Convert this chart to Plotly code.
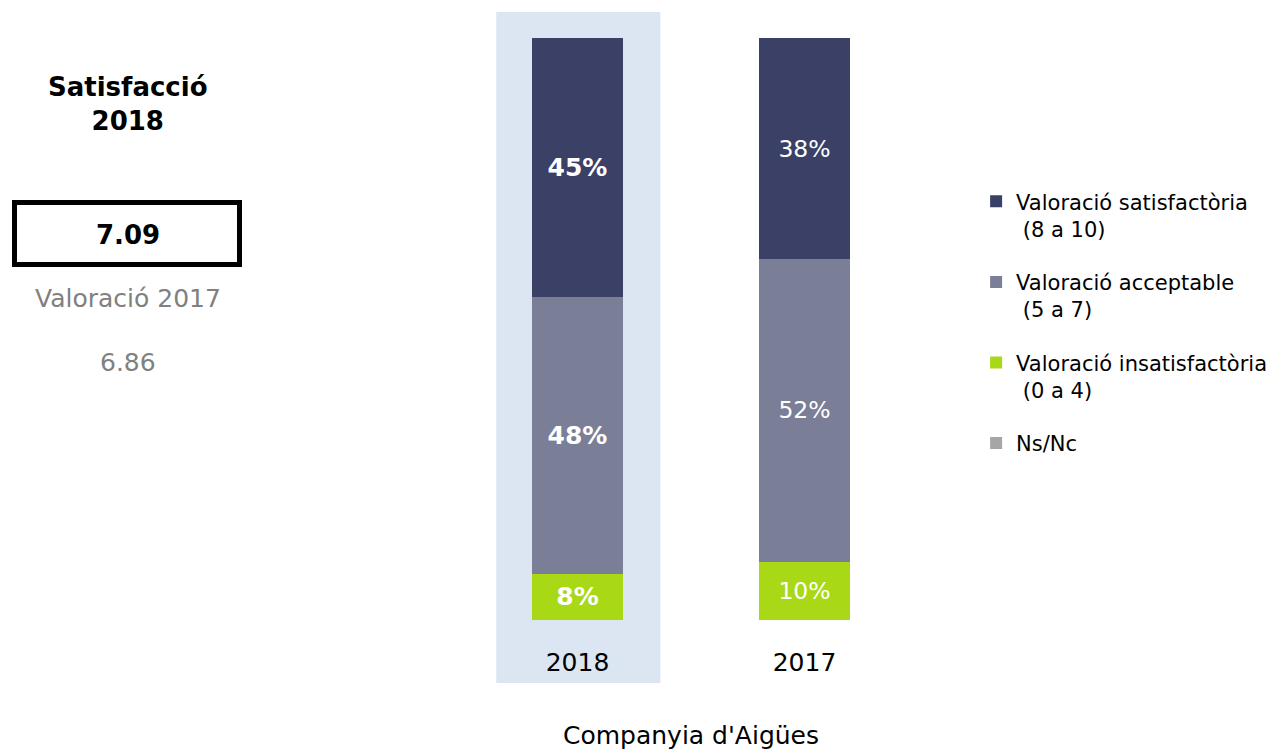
import plotly.graph_objects as go

categories = ["2018", "2017"]
series_names = [
    "Valoració insatisfactòria<br> (0 a 4)",
    "Valoració acceptable<br> (5 a 7)",
    "Valoració satisfactòria<br> (8 a 10)",
    "Ns/Nc",
]
insatisfactoria = [8, 10]
acceptable = [48, 52]
satisfactoria = [45, 38]
nsnc = [0, 0]
colors = ["#a8d816", "#7a7e96", "#3a4066", "#a6a6a6"]
legend_ranks = [3, 2, 1, 4]

score_2018 = "7.09"
score_2017 = "6.86"

FONT = "DejaVu Sans"

# plot area in pixels (used only for placing side-panel annotations)
L, T, W, H = 464, 38, 454, 582


def px(x):
    return (x - L) / W


def py(y):
    return (T + H - y) / H


fig = go.Figure()
series = [insatisfactoria, acceptable, satisfactoria, nsnc]
for i, (name, vals, col) in enumerate(zip(series_names, series, colors)):
    texts = []
    sizes = []
    for j, v in enumerate(vals):
        if v == 0:
            texts.append("")
        elif j == 0:
            texts.append(f"<b>{v}%</b>")
        else:
            texts.append(f"{v}%")
        sizes.append(25 if j == 0 else 23.5)
    fig.add_trace(go.Bar(
        x=categories, y=vals, name=name, marker=dict(color=col, line=dict(width=0)),
        text=texts, textposition="inside", insidetextanchor="middle",
        textfont=dict(color="white", size=sizes, family=FONT),
        legendgroup=str(i), legendrank=legend_ranks[i],
        hoverinfo="skip", cliponaxis=False,
    ))

fig.update_layout(
    barmode="stack", barnorm="percent", bargap=0.595,
    width=1274, height=750,
    margin=dict(l=L, r=1274 - L - W, t=T, b=750 - T - H, autoexpand=False),
    plot_bgcolor="white", paper_bgcolor="white",
    font=dict(family=FONT, color="black"),
    uniformtext=dict(mode=False),
    showlegend=True,
    legend=dict(x=1.128, y=0.754, xanchor="left", yanchor="top",
                font=dict(size=21, family=FONT), valign="top",
                tracegroupgap=23, itemwidth=30, traceorder="grouped"),
    xaxis=dict(type="category", range=[-0.5, 1.5], showgrid=False, showline=False,
               zeroline=False, ticks="outside", ticklen=20, tickcolor="rgba(0,0,0,0)",
               tickfont=dict(size=25, family=FONT), automargin=False,
               title=dict(text="Companyia d'Aigües", font=dict(size=25, family=FONT), standoff=50)),
    yaxis=dict(range=[0, 100], visible=False, showgrid=False, zeroline=False),
)

# highlight behind 2018
fig.add_shape(type="rect", xref="x", yref="paper", x0=-0.358, x1=0.365,
              y0=py(683), y1=py(12), fillcolor="#dce6f2", line=dict(width=0), layer="below")

# left panel
fig.add_annotation(xref="paper", yref="paper", x=px(128), y=py(103.5),
                   xanchor="center", yanchor="middle",
                   text="<b>Satisfacció<br>2018</b>", showarrow=False,
                   font=dict(size=26, family=FONT, color="black"), align="center")
fig.add_shape(type="rect", xref="paper", yref="paper",
              x0=px(14.5), x1=px(239.5), y0=py(264.5), y1=py(202.5),
              line=dict(color="black", width=5), fillcolor="white")
fig.add_annotation(xref="paper", yref="paper", x=px(128), y=py(235),
                   xanchor="center", yanchor="middle",
                   text=f"<b>{score_2018}</b>", showarrow=False,
                   font=dict(size=26, family=FONT, color="black"))
fig.add_annotation(xref="paper", yref="paper", x=px(128), y=py(298),
                   xanchor="center", yanchor="middle",
                   text="Valoració 2017", showarrow=False,
                   font=dict(size=25, family=FONT, color="#808080"))
fig.add_annotation(xref="paper", yref="paper", x=px(128), y=py(362),
                   xanchor="center", yanchor="middle",
                   text=score_2017, showarrow=False,
                   font=dict(size=25, family=FONT, color="#808080"))

fig.write_html("out.html", config={"displayModeBar": False},
               post_script="document.body.style.margin='0px';")
